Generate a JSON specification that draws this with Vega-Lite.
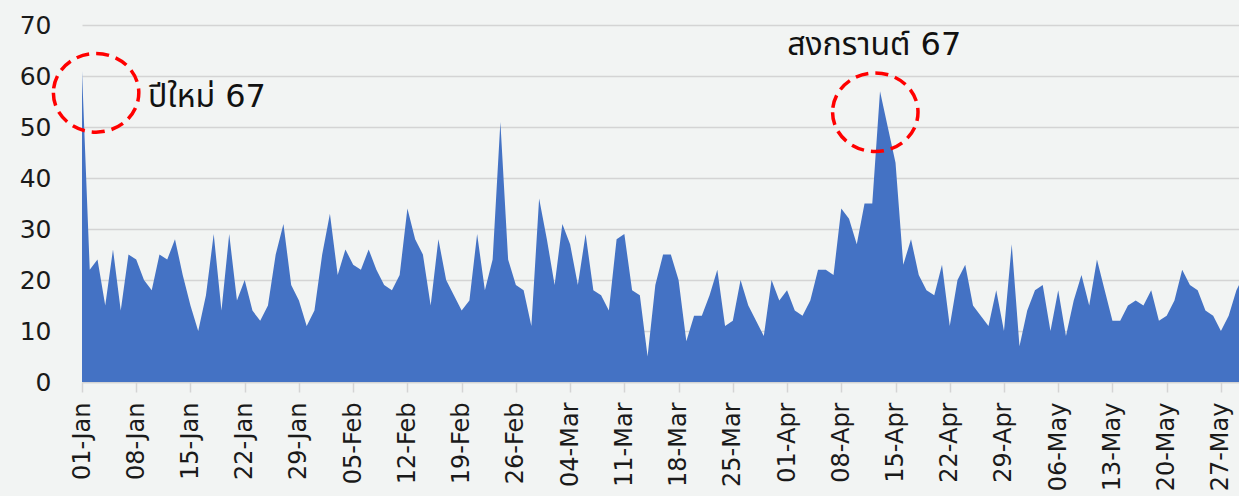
{
  "$schema": "https://vega.github.io/schema/vega-lite/v6.json",
  "autosize": {"type": "none"},
  "width": 1157,
  "height": 357,
  "padding": {"left": 82, "top": 25, "right": 0, "bottom": 114},
  "background": "#f2f4f3",
  "config": {
    "view": {"stroke": null},
    "font": "DejaVu Sans, Noto Sans Thai, Loma, sans-serif"
  },
  "datasets": {
    "daily": [
      {"date":"2024-01-01","value":61},{"date":"2024-01-02","value":22},{"date":"2024-01-03","value":24},{"date":"2024-01-04","value":15},{"date":"2024-01-05","value":26},{"date":"2024-01-06","value":14},{"date":"2024-01-07","value":25},{"date":"2024-01-08","value":24},{"date":"2024-01-09","value":20},{"date":"2024-01-10","value":18},
      {"date":"2024-01-11","value":25},{"date":"2024-01-12","value":24},{"date":"2024-01-13","value":28},{"date":"2024-01-14","value":21},{"date":"2024-01-15","value":15},{"date":"2024-01-16","value":10},{"date":"2024-01-17","value":17},{"date":"2024-01-18","value":29},{"date":"2024-01-19","value":14},{"date":"2024-01-20","value":29},
      {"date":"2024-01-21","value":16},{"date":"2024-01-22","value":20},{"date":"2024-01-23","value":14},{"date":"2024-01-24","value":12},{"date":"2024-01-25","value":15},{"date":"2024-01-26","value":25},{"date":"2024-01-27","value":31},{"date":"2024-01-28","value":19},{"date":"2024-01-29","value":16},{"date":"2024-01-30","value":11},
      {"date":"2024-01-31","value":14},{"date":"2024-02-01","value":25},{"date":"2024-02-02","value":33},{"date":"2024-02-03","value":21},{"date":"2024-02-04","value":26},{"date":"2024-02-05","value":23},{"date":"2024-02-06","value":22},{"date":"2024-02-07","value":26},{"date":"2024-02-08","value":22},{"date":"2024-02-09","value":19},
      {"date":"2024-02-10","value":18},{"date":"2024-02-11","value":21},{"date":"2024-02-12","value":34},{"date":"2024-02-13","value":28},{"date":"2024-02-14","value":25},{"date":"2024-02-15","value":15},{"date":"2024-02-16","value":28},{"date":"2024-02-17","value":20},{"date":"2024-02-18","value":17},{"date":"2024-02-19","value":14},
      {"date":"2024-02-20","value":16},{"date":"2024-02-21","value":29},{"date":"2024-02-22","value":18},{"date":"2024-02-23","value":24},{"date":"2024-02-24","value":51},{"date":"2024-02-25","value":24},{"date":"2024-02-26","value":19},{"date":"2024-02-27","value":18},{"date":"2024-02-28","value":11},{"date":"2024-02-29","value":36},
      {"date":"2024-03-01","value":28},{"date":"2024-03-02","value":19},{"date":"2024-03-03","value":31},{"date":"2024-03-04","value":27},{"date":"2024-03-05","value":19},{"date":"2024-03-06","value":29},{"date":"2024-03-07","value":18},{"date":"2024-03-08","value":17},{"date":"2024-03-09","value":14},{"date":"2024-03-10","value":28},
      {"date":"2024-03-11","value":29},{"date":"2024-03-12","value":18},{"date":"2024-03-13","value":17},{"date":"2024-03-14","value":5},{"date":"2024-03-15","value":19},{"date":"2024-03-16","value":25},{"date":"2024-03-17","value":25},{"date":"2024-03-18","value":20},{"date":"2024-03-19","value":8},{"date":"2024-03-20","value":13},
      {"date":"2024-03-21","value":13},{"date":"2024-03-22","value":17},{"date":"2024-03-23","value":22},{"date":"2024-03-24","value":11},{"date":"2024-03-25","value":12},{"date":"2024-03-26","value":20},{"date":"2024-03-27","value":15},{"date":"2024-03-28","value":12},{"date":"2024-03-29","value":9},{"date":"2024-03-30","value":20},
      {"date":"2024-03-31","value":16},{"date":"2024-04-01","value":18},{"date":"2024-04-02","value":14},{"date":"2024-04-03","value":13},{"date":"2024-04-04","value":16},{"date":"2024-04-05","value":22},{"date":"2024-04-06","value":22},{"date":"2024-04-07","value":21},{"date":"2024-04-08","value":34},{"date":"2024-04-09","value":32},
      {"date":"2024-04-10","value":27},{"date":"2024-04-11","value":35},{"date":"2024-04-12","value":35},{"date":"2024-04-13","value":57},{"date":"2024-04-14","value":50},{"date":"2024-04-15","value":43},{"date":"2024-04-16","value":23},{"date":"2024-04-17","value":28},{"date":"2024-04-18","value":21},{"date":"2024-04-19","value":18},
      {"date":"2024-04-20","value":17},{"date":"2024-04-21","value":23},{"date":"2024-04-22","value":11},{"date":"2024-04-23","value":20},{"date":"2024-04-24","value":23},{"date":"2024-04-25","value":15},{"date":"2024-04-26","value":13},{"date":"2024-04-27","value":11},{"date":"2024-04-28","value":18},{"date":"2024-04-29","value":10},
      {"date":"2024-04-30","value":27},{"date":"2024-05-01","value":7},{"date":"2024-05-02","value":14},{"date":"2024-05-03","value":18},{"date":"2024-05-04","value":19},{"date":"2024-05-05","value":10},{"date":"2024-05-06","value":18},{"date":"2024-05-07","value":9},{"date":"2024-05-08","value":16},{"date":"2024-05-09","value":21},
      {"date":"2024-05-10","value":15},{"date":"2024-05-11","value":24},{"date":"2024-05-12","value":18},{"date":"2024-05-13","value":12},{"date":"2024-05-14","value":12},{"date":"2024-05-15","value":15},{"date":"2024-05-16","value":16},{"date":"2024-05-17","value":15},{"date":"2024-05-18","value":18},{"date":"2024-05-19","value":12},
      {"date":"2024-05-20","value":13},{"date":"2024-05-21","value":16},{"date":"2024-05-22","value":22},{"date":"2024-05-23","value":19},{"date":"2024-05-24","value":18},{"date":"2024-05-25","value":14},{"date":"2024-05-26","value":13},{"date":"2024-05-27","value":10},{"date":"2024-05-28","value":13},{"date":"2024-05-29","value":18},
      {"date":"2024-05-30","value":21}
    ],
    "circles": [
      {"date":"2024-01-02T19:40:00Z","value":56.7},
      {"date":"2024-04-12T09:20:00Z","value":52.9}
    ],
    "notesLeft": [
      {"date":"2024-01-09T12:30:00Z","value":53.9,"label":"ปีใหม่ 67"}
    ],
    "notesCenter": [
      {"date":"2024-04-12T06:00:00Z","value":64.1,"label":"สงกรานต์ 67"}
    ]
  },
  "encoding": {
    "x": {
      "field": "date",
      "type": "temporal",
      "scale": {
        "type": "utc",
        "domain": [
          {"year":2024,"month":1,"date":1,"utc":true},
          {"year":2024,"month":5,"date":29,"hours":8,"utc":true}
        ]
      },
      "axis": {
        "title": null,
        "format": "%d-%b",
        "values": [
          {"year":2024,"month":1,"date":1,"utc":true},
          {"year":2024,"month":1,"date":8,"utc":true},
          {"year":2024,"month":1,"date":15,"utc":true},
          {"year":2024,"month":1,"date":22,"utc":true},
          {"year":2024,"month":1,"date":29,"utc":true},
          {"year":2024,"month":2,"date":5,"utc":true},
          {"year":2024,"month":2,"date":12,"utc":true},
          {"year":2024,"month":2,"date":19,"utc":true},
          {"year":2024,"month":2,"date":26,"utc":true},
          {"year":2024,"month":3,"date":4,"utc":true},
          {"year":2024,"month":3,"date":11,"utc":true},
          {"year":2024,"month":3,"date":18,"utc":true},
          {"year":2024,"month":3,"date":25,"utc":true},
          {"year":2024,"month":4,"date":1,"utc":true},
          {"year":2024,"month":4,"date":8,"utc":true},
          {"year":2024,"month":4,"date":15,"utc":true},
          {"year":2024,"month":4,"date":22,"utc":true},
          {"year":2024,"month":4,"date":29,"utc":true},
          {"year":2024,"month":5,"date":6,"utc":true},
          {"year":2024,"month":5,"date":13,"utc":true},
          {"year":2024,"month":5,"date":20,"utc":true},
          {"year":2024,"month":5,"date":27,"utc":true}
        ],
        "labelAngle": 270,
        "labelAlign": "right",
        "labelBaseline": "middle",
        "labelFontSize": 24,
        "labelColor": "#1a1a1a",
        "labelPadding": 10,
        "labelOverlap": false,
        "labelFlush": false,
        "ticks": true,
        "tickSize": 10,
        "tickColor": "#d4d4d4",
        "tickWidth": 1.5,
        "domain": true,
        "domainColor": "#d4d4d4",
        "domainWidth": 1.5,
        "grid": false
      }
    },
    "y": {
      "field": "value",
      "type": "quantitative",
      "scale": {"domain": [0, 70], "nice": false},
      "axis": {
        "title": null,
        "values": [0, 10, 20, 30, 40, 50, 60, 70],
        "labelFontSize": 25,
        "labelColor": "#1a1a1a",
        "labelPadding": 31,
        "ticks": false,
        "tickSize": 0,
        "domain": false,
        "grid": true,
        "gridColor": "#d4d4d4",
        "gridWidth": 1.5
      }
    }
  },
  "layer": [
    {
      "data": {"name": "daily"},
      "mark": {"type": "area", "color": "#4472c4", "clip": true, "interpolate": "linear"}
    },
    {
      "data": {"name": "circles"},
      "mark": {
        "type": "point",
        "shape": "M -1 0 A 1 0.92 0 1 0 1 0 A 1 0.92 0 1 0 -1 0 Z",
        "size": 7300,
        "filled": false,
        "stroke": "#ff0000",
        "strokeWidth": 3.5,
        "strokeDash": [13, 7],
        "opacity": 1
      }
    },
    {
      "data": {"name": "notesLeft"},
      "mark": {"type": "text", "align": "left", "baseline": "alphabetic", "fontSize": 32, "color": "#111111"},
      "encoding": {"text": {"field": "label"}}
    },
    {
      "data": {"name": "notesCenter"},
      "mark": {"type": "text", "align": "center", "baseline": "alphabetic", "fontSize": 32, "color": "#111111"},
      "encoding": {"text": {"field": "label"}}
    }
  ]
}
